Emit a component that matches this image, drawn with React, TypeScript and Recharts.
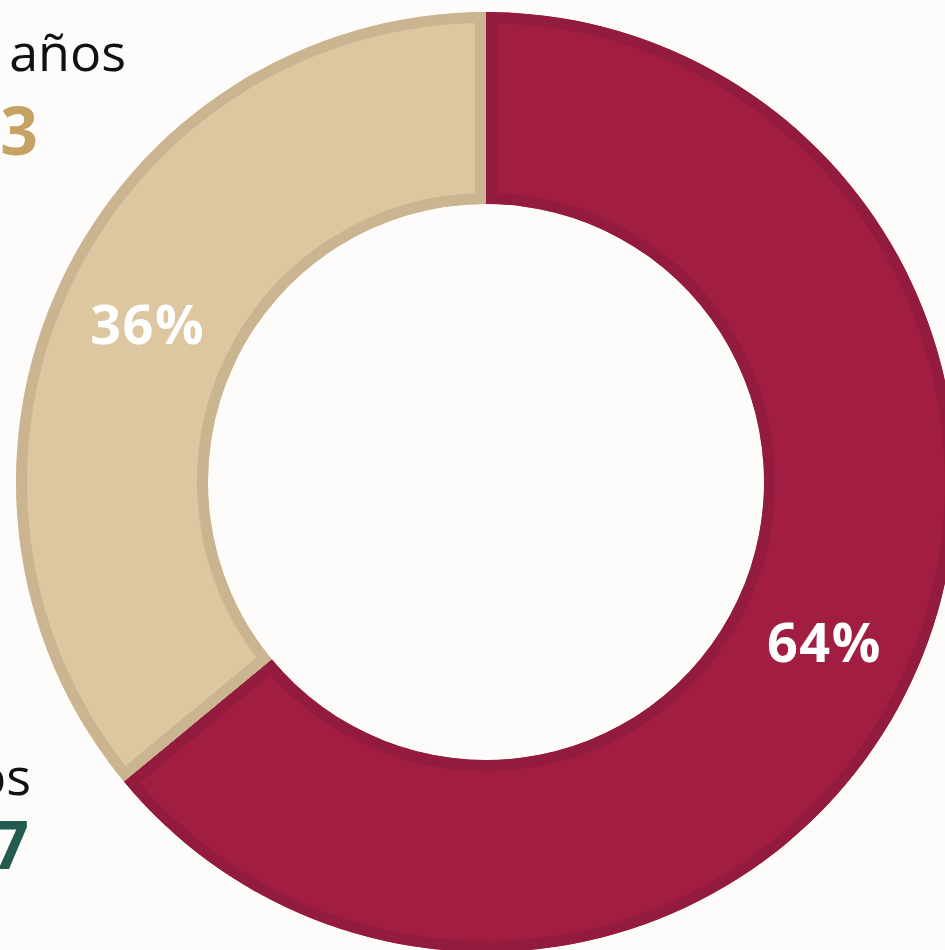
import React from 'react';
import { PieChart, Pie, Cell, Sector } from 'recharts';

const segments = ['64%', '36%'];
const shares = [64, 36];
const fills = ['#a21d42', '#dcc7a1'];
const borders = ['#931b3d', '#cbb590'];

const data = segments.map((name, i) => ({ name, value: shares[i] }));

const RAD = Math.PI / 180;

const renderLabel = (props: any) => {
  const { cx, cy, midAngle, innerRadius, outerRadius, value } = props;
  const r = (innerRadius + outerRadius) / 2;
  const x = cx + r * Math.cos(-midAngle * RAD);
  const y = cy + r * Math.sin(-midAngle * RAD);
  return (
    <text
      x={x}
      y={y}
      fill="#ffffff"
      textAnchor="middle"
      dominantBaseline="central"
      fontFamily="'Open Sans', sans-serif"
      fontWeight={700}
      fontSize={54}
      letterSpacing={1.5}
    >
      {`${value}%`}
    </text>
  );
};

// slice with a border drawn on the inside only
const InnerBorderSector = (props: any) => {
  const { cx, cy, innerRadius, outerRadius, startAngle, endAngle, fill, stroke } = props;
  const id = `clip-${Math.round(startAngle * 100)}`;
  const geo = { cx, cy, innerRadius, outerRadius, startAngle, endAngle };
  return (
    <g>
      <defs>
        <clipPath id={id}>
          <Sector {...geo} />
        </clipPath>
      </defs>
      <Sector {...geo} fill={fill} stroke={stroke} strokeWidth={22} clipPath={`url(#${id})`} />
    </g>
  );
};

const sideText: React.CSSProperties = {
  position: 'absolute',
  right: 0,
  margin: 0,
  lineHeight: 1,
  whiteSpace: 'nowrap',
};

export default function App() {
  return (
    <div
      style={{
        position: 'absolute',
        left: 0,
        top: 0,
        width: 945,
        height: 950,
        overflow: 'hidden',
        background: '#fdfcfb',
        fontFamily: "'Open Sans', sans-serif",
      }}
    >
      <div style={{ position: 'absolute', left: -300, top: 0, width: 426, height: 950 }}>
        <div style={{ ...sideText, top: 25, fontSize: 52, color: '#111111', fontWeight: 400 }}>años</div>
        <div style={{ ...sideText, right: 88, top: 96, fontSize: 66, color: '#c6a264', fontWeight: 700 }}>3</div>
      </div>
      <div style={{ position: 'absolute', left: -300, top: 0, width: 331, height: 950 }}>
        <div style={{ ...sideText, top: 749, fontSize: 52, color: '#111111', fontWeight: 400 }}>os</div>
      </div>
      <div style={{ position: 'absolute', left: -300, top: 0, width: 329, height: 950 }}>
        <div style={{ ...sideText, top: 810, fontSize: 66, color: '#235b4e', fontWeight: 700 }}>7</div>
      </div>
      <div style={{ position: 'absolute', left: 0, top: 0 }}>
        <PieChart width={945} height={950} margin={{ top: 0, right: 0, bottom: 0, left: 0 }}>
          <Pie
            data={data}
            dataKey="value"
            nameKey="name"
            cx={486}
            cy={482}
            innerRadius={278}
            outerRadius={470}
            startAngle={90}
            endAngle={-270}
            stroke="none"
            label={renderLabel}
            labelLine={false}
            shape={InnerBorderSector}
            isAnimationActive={false}
          >
            {data.map((d, i) => (
              <Cell key={d.name} fill={fills[i]} stroke={borders[i]} />
            ))}
          </Pie>
        </PieChart>
      </div>
    </div>
  );
}
